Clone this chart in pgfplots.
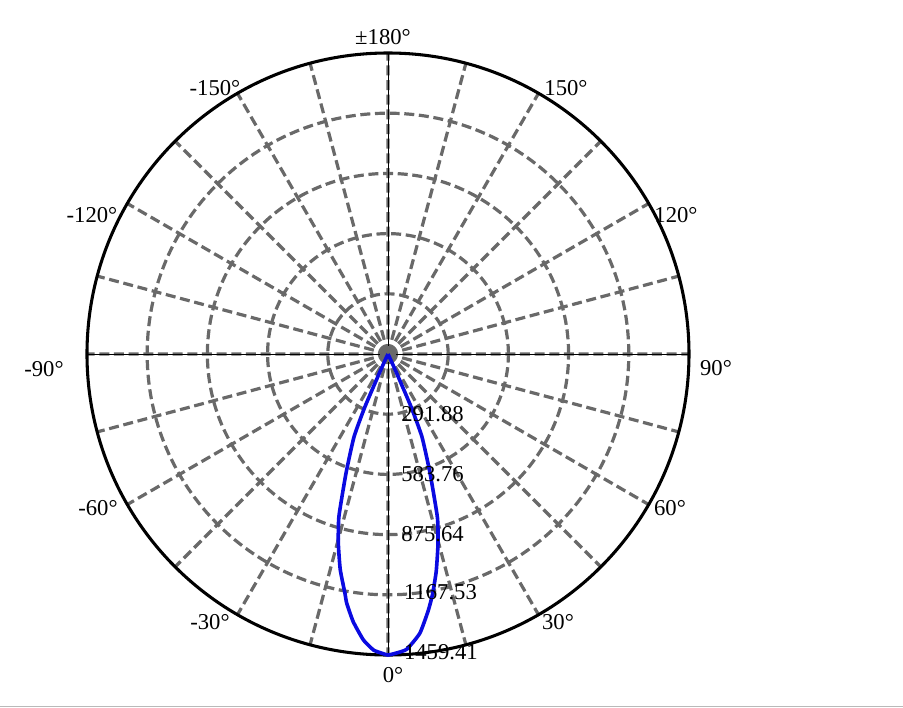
\documentclass[border=0pt]{standalone}
\usepackage{pgfplots}
\pgfplotsset{compat=1.18}
\usepgfplotslibrary{polar}
\usepackage{fontspec}
\setmainfont{Liberation Serif}
\definecolor{gridgray}{RGB}{105,105,105}
\definecolor{curveblue}{RGB}{10,10,225}
\begin{document}
\begin{tikzpicture}
\path[use as bounding box] (-291pt,-264.75pt) rectangle (386.25pt,265.5pt);
\draw[gray!55, line width=0.8pt] (-291pt,-264.2pt) -- (386.25pt,-264.2pt);
\begin{polaraxis}[
  at={(0,0)}, anchor=origin,
  scale only axis, width=451.5pt, height=451.5pt,
  ymin=0, ymax=1459.41,
  xtick={0,15,...,345},
  ytick={291.88,583.76,875.64,1167.53},
  xmajorticks=false, ymajorticks=false,
  grid=major,
  major grid style={gridgray, line width=2.4pt, dash pattern=on 7.5pt off 3.5pt},
  separate axis lines,
  x axis line style={black, line width=2.3pt},
  y axis line style={draw=none},
  clip=false,
  font=\fontsize{17}{20}\selectfont,
]
\draw[black, line width=0.5pt] (axis cs:0,1459.41) -- (axis cs:180,1459.41);
\draw[black, line width=0.5pt] (axis cs:90,1459.41) -- (axis cs:270,1459.41);
\fill[gridgray] (axis cs:0,0) circle[radius=6pt];
\addplot[curveblue, line width=2.7pt, no marks, smooth, tension=0.3] table[x expr=\thisrow{t}-90, y=r] {
t r
-26 0
-25 30
-24.3 103
-23.6 279
-22.3 434
-19.4 613
-16.8 824
-14.7 949
-12.5 1070
-10.2 1179
-9.4 1225
-7.4 1309
-4.9 1392
-2.8 1437
-1.2 1451
0 1459.41
1.2 1453
3.6 1435
6.5 1363
8.9 1260
10.5 1185
12.5 1080
14.7 955
16.8 830
19.4 615
22.3 434
23.6 279
24.3 103
25 30
26 0
};
\node[anchor=west, xshift=6.5pt] at (axis cs:-90,291.88) {291.88};
\node[anchor=west, xshift=6.5pt] at (axis cs:-90,583.76) {583.76};
\node[anchor=west, xshift=6.5pt] at (axis cs:-90,875.64) {875.64};
\node[anchor=west, xshift=8.5pt, yshift=2pt] at (axis cs:-90,1167.53) {1167.53};
\node[anchor=west, xshift=8.5pt, yshift=2.5pt] at (axis cs:-90,1459.41) {1459.41};
\end{polaraxis}
\begin{scope}[font=\fontsize{17}{20}\selectfont]
\node at (3.75pt,-240.75pt) {0°};
\node at (-3.75pt,237.75pt) {±180°};
\node at (246pt,-10.5pt) {90°};
\node at (-258pt,-11.25pt) {-90°};
\node at (133.5pt,199.5pt) {150°};
\node at (-129.75pt,199.5pt) {-150°};
\node at (216pt,104.25pt) {120°};
\node at (-222pt,104.25pt) {-120°};
\node at (211.5pt,-115.5pt) {60°};
\node at (-217.5pt,-115.5pt) {-60°};
\node at (127.5pt,-201pt) {30°};
\node at (-133.5pt,-201pt) {-30°};
\end{scope}
\end{tikzpicture}
\end{document}
